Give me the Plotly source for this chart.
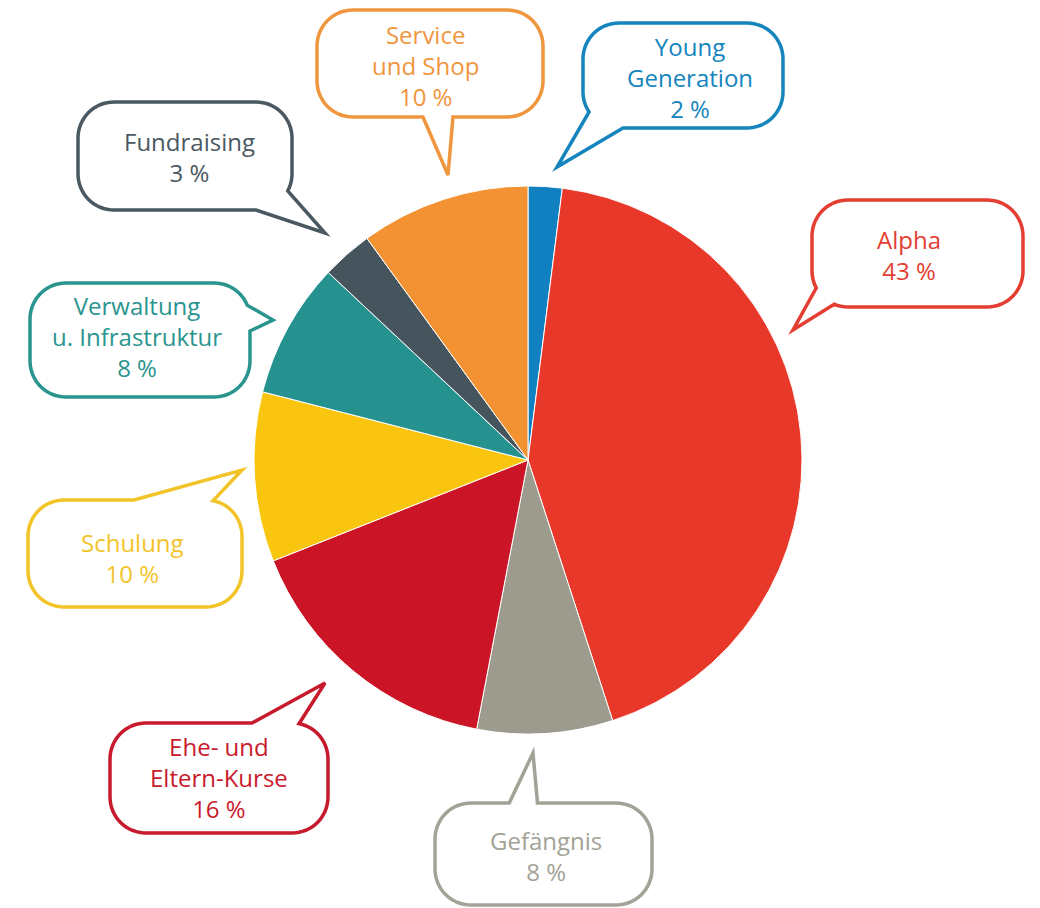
import math
import plotly.graph_objects as go

# ---------------- data ----------------
categories = ["Young Generation", "Alpha", "Gefängnis", "Ehe- und Eltern-Kurse",
              "Schulung", "Verwaltung u. Infrastruktur", "Fundraising", "Service und Shop"]
display_lines = [["Young", "Generation"], ["Alpha"], ["Gefängnis"], ["Ehe- und", "Eltern-Kurse"],
                 ["Schulung"], ["Verwaltung", "u. Infrastruktur"], ["Fundraising"], ["Service", "und Shop"]]
shares = [2, 43, 8, 16, 10, 8, 3, 10]
slice_colors = ["#1180c0", "#e8382a", "#9d9b8d", "#cb1426",
                "#f9c50f", "#26928f", "#46545e", "#f29233"]
bubble_colors = ["#1685bd", "#e33e31", "#a3a296", "#c81a2d",
                 "#f2c42a", "#2a948f", "#4a5861", "#f0963f"]

# ---------------- layout geometry (pixels) ----------------
W, H = 1040, 908
PIE_CX, PIE_CY, PIE_R = 528, 460, 274

# box (x0, y0, x1, y1), tail attach A, tail attach B, tail tip, text centre
bubbles = [
    ((583, 23, 783, 128), (589, 112), (623, 128), (557, 167), (690, 77)),
    ((812, 200, 1023, 307), (814, 288), (833, 306), (793, 330), (909, 255)),
    ((435, 803, 652, 905), (510, 803), (538, 803), (533, 753), (546, 856)),
    ((110, 723, 328, 833), (252, 723), (300, 725), (325, 683), (219, 777)),
    ((28, 500, 242, 607), (135, 500), (212, 503), (242, 470), (132, 558)),
    ((30, 283, 250, 397), (238, 308), (250, 332), (273, 320), (137, 337)),
    ((78, 102, 292, 210), (257, 210), (287, 192), (325, 233), (189, 157)),
    ((317, 10, 543, 117), (422, 117), (452, 117), (448, 175), (425, 65)),
]
CORNER_R = 36


def px(x, y):
    return x / W, 1 - y / H


def outline(box, r):
    x0, y0, x1, y1 = box
    pts = []

    def arc(cx, cy, a0, a1, n=16):
        for i in range(n + 1):
            a = math.radians(a0 + (a1 - a0) * i / n)
            pts.append((cx + r * math.cos(a), cy + r * math.sin(a)))

    def line(xa, ya, xb, yb):
        n = max(2, int(math.hypot(xb - xa, yb - ya) / 2))
        for i in range(1, n):
            pts.append((xa + (xb - xa) * i / n, ya + (yb - ya) * i / n))

    arc(x0 + r, y0 + r, 180, 270)
    line(x0 + r, y0, x1 - r, y0)
    arc(x1 - r, y0 + r, 270, 360)
    line(x1, y0 + r, x1, y1 - r)
    arc(x1 - r, y1 - r, 0, 90)
    line(x1 - r, y1, x0 + r, y1)
    arc(x0 + r, y1 - r, 90, 180)
    line(x0, y1 - r, x0, y0 + r)
    return pts


def nearest(pts, p):
    return min(range(len(pts)), key=lambda i: (pts[i][0] - p[0]) ** 2 + (pts[i][1] - p[1]) ** 2)


def bubble_path(box, a, b, tip):
    pts = outline(box, CORNER_R)
    ia, ib = sorted((nearest(pts, a), nearest(pts, b)))
    pts = pts[:ia + 1] + [tip] + pts[ib:]
    coords = [px(x, y) for x, y in pts]
    return "M" + " L".join(f"{x:.5f},{y:.5f}" for x, y in coords) + " Z"


fig = go.Figure()
fig.add_trace(go.Pie(
    labels=categories, values=shares, sort=False, direction="clockwise", rotation=0,
    marker=dict(colors=slice_colors, line=dict(color="white", width=1)),
    textinfo="none", hoverinfo="label+percent", showlegend=False,
    domain=dict(x=[(PIE_CX - PIE_R) / W, (PIE_CX + PIE_R) / W],
                y=[1 - (PIE_CY + PIE_R) / H, 1 - (PIE_CY - PIE_R) / H]),
))

shapes, annotations = [], []
for lines, val, col, (box, a, b, tip, tc) in zip(display_lines, shares, bubble_colors, bubbles):
    shapes.append(dict(type="path", xref="paper", yref="paper", path=bubble_path(box, a, b, tip),
                       line=dict(color=col, width=3.5), fillcolor="white", layer="above"))
    tx, ty = px(*tc)
    annotations.append(dict(x=tx, y=ty, xref="paper", yref="paper", xanchor="center", yanchor="middle",
                            text="<br>".join(lines + [f"{val} %"]), showarrow=False,
                            font=dict(family="Open Sans", size=24, color=col)))

fig.update_layout(width=W, height=H, margin=dict(l=0, r=0, t=0, b=0),
                  paper_bgcolor="white", plot_bgcolor="white",
                  shapes=shapes, annotations=annotations, showlegend=False)
fig.write_html("out.html", config={"displayModeBar": False},
               post_script="document.body.style.margin='0';")
